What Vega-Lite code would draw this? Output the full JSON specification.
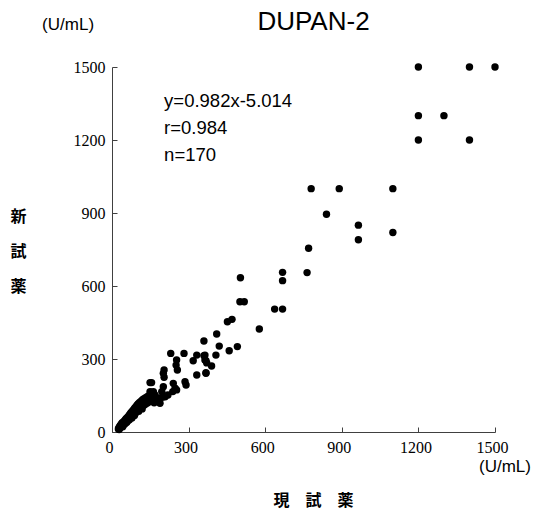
{
  "$schema": "https://vega.github.io/schema/vega-lite/v6.json",
  "width": 383,
  "height": 365,
  "autosize": {"type": "none"},
  "padding": {"left": 112, "top": 67, "right": 41, "bottom": 86},
  "background": "white",
  "config": {"view": {"stroke": null}, "font": "Liberation Sans"},
  "title": {"text": "DUPAN-2", "fontSize": 26, "font": "Liberation Sans", "fontWeight": "normal", "color": "black", "anchor": "middle", "frame": "group", "dx": 10, "offset": -19},
  "layer": [
    {
      "data": {"values": [
        {"current": 25, "new": 12}, {"current": 27, "new": 18}, {"current": 28, "new": 10}, {"current": 30, "new": 22}, {"current": 30, "new": 15},
        {"current": 32, "new": 26}, {"current": 33, "new": 18}, {"current": 35, "new": 30}, {"current": 35, "new": 20}, {"current": 37, "new": 25},
        {"current": 38, "new": 34}, {"current": 40, "new": 28}, {"current": 40, "new": 38}, {"current": 42, "new": 22}, {"current": 43, "new": 32},
        {"current": 45, "new": 40}, {"current": 45, "new": 30}, {"current": 47, "new": 36}, {"current": 48, "new": 45}, {"current": 50, "new": 33},
        {"current": 50, "new": 42}, {"current": 52, "new": 50}, {"current": 53, "new": 38}, {"current": 55, "new": 46}, {"current": 55, "new": 55},
        {"current": 57, "new": 42}, {"current": 58, "new": 52}, {"current": 60, "new": 60}, {"current": 60, "new": 45}, {"current": 62, "new": 55},
        {"current": 63, "new": 48}, {"current": 65, "new": 65}, {"current": 65, "new": 52}, {"current": 67, "new": 60}, {"current": 68, "new": 70},
        {"current": 70, "new": 55}, {"current": 70, "new": 64}, {"current": 72, "new": 75}, {"current": 73, "new": 60}, {"current": 75, "new": 68},
        {"current": 75, "new": 80}, {"current": 77, "new": 62}, {"current": 78, "new": 72}, {"current": 80, "new": 85}, {"current": 80, "new": 66},
        {"current": 82, "new": 76}, {"current": 83, "new": 90}, {"current": 85, "new": 70}, {"current": 85, "new": 80}, {"current": 87, "new": 95},
        {"current": 88, "new": 74}, {"current": 90, "new": 85}, {"current": 90, "new": 100}, {"current": 92, "new": 78}, {"current": 93, "new": 90},
        {"current": 95, "new": 105}, {"current": 95, "new": 82}, {"current": 97, "new": 95}, {"current": 98, "new": 110}, {"current": 100, "new": 88},
        {"current": 100, "new": 100}, {"current": 102, "new": 115}, {"current": 104, "new": 92}, {"current": 105, "new": 105}, {"current": 107, "new": 120},
        {"current": 108, "new": 96}, {"current": 110, "new": 110}, {"current": 112, "new": 125}, {"current": 113, "new": 100}, {"current": 115, "new": 115},
        {"current": 117, "new": 130}, {"current": 118, "new": 105}, {"current": 120, "new": 120}, {"current": 122, "new": 135}, {"current": 125, "new": 110},
        {"current": 127, "new": 125}, {"current": 130, "new": 140}, {"current": 132, "new": 115}, {"current": 135, "new": 130}, {"current": 138, "new": 145},
        {"current": 140, "new": 120}, {"current": 143, "new": 135}, {"current": 145, "new": 150}, {"current": 148, "new": 125}, {"current": 150, "new": 140},
        {"current": 155, "new": 130}, {"current": 160, "new": 145}, {"current": 165, "new": 120}, {"current": 58, "new": 40}, {"current": 68, "new": 50},
        {"current": 78, "new": 58}, {"current": 88, "new": 68}, {"current": 105, "new": 85}, {"current": 118, "new": 95},
        {"current": 149, "new": 203}, {"current": 155, "new": 203}, {"current": 149, "new": 166}, {"current": 162, "new": 166}, {"current": 168, "new": 152},
        {"current": 181, "new": 140}, {"current": 188, "new": 118}, {"current": 201, "new": 186}, {"current": 195, "new": 166}, {"current": 208, "new": 145},
        {"current": 219, "new": 152}, {"current": 201, "new": 241}, {"current": 204, "new": 255}, {"current": 204, "new": 225}, {"current": 240, "new": 200},
        {"current": 247, "new": 180}, {"current": 238, "new": 166}, {"current": 253, "new": 173}, {"current": 253, "new": 296}, {"current": 251, "new": 275},
        {"current": 256, "new": 255}, {"current": 230, "new": 323}, {"current": 282, "new": 323}, {"current": 286, "new": 207}, {"current": 290, "new": 193},
        {"current": 318, "new": 293}, {"current": 332, "new": 316}, {"current": 364, "new": 316}, {"current": 407, "new": 316}, {"current": 332, "new": 234},
        {"current": 368, "new": 244}, {"current": 364, "new": 296}, {"current": 371, "new": 284}, {"current": 390, "new": 271}, {"current": 360, "new": 374},
        {"current": 420, "new": 353}, {"current": 491, "new": 351}, {"current": 459, "new": 334}, {"current": 410, "new": 403}, {"current": 452, "new": 453},
        {"current": 470, "new": 463}, {"current": 577, "new": 423}, {"current": 503, "new": 634}, {"current": 501, "new": 535}, {"current": 518, "new": 535},
        {"current": 637, "new": 505}, {"current": 668, "new": 505}, {"current": 668, "new": 656}, {"current": 668, "new": 622}, {"current": 764, "new": 655},
        {"current": 770, "new": 755}, {"current": 780, "new": 1000}, {"current": 890, "new": 1000}, {"current": 1100, "new": 1000}, {"current": 840, "new": 895},
        {"current": 965, "new": 850}, {"current": 965, "new": 790}, {"current": 1100, "new": 820}, {"current": 1200, "new": 1500}, {"current": 1400, "new": 1500},
        {"current": 1500, "new": 1500}, {"current": 1200, "new": 1300}, {"current": 1300, "new": 1300}, {"current": 1200, "new": 1200}, {"current": 1400, "new": 1200},
        {"current": 360, "new": 314}, {"current": 368, "new": 293}, {"current": 368, "new": 241}, {"current": 197, "new": 143}, {"current": 168, "new": 130}
      ]},
      "mark": {"type": "circle", "size": 55, "color": "black", "opacity": 1},
      "encoding": {
        "x": {
          "field": "current", "type": "quantitative",
          "scale": {"domain": [0, 1500], "nice": false},
          "axis": {
            "title": "現　試　薬", "values": [0, 300, 600, 900, 1200, 1500], "format": "d", "grid": false,
            "tickSize": -5, "tickColor": "#404040", "domainColor": "#404040",
            "labelFont": "Liberation Sans Narrow", "labelFontSize": 16, "labelColor": "black",
            "labelPadding": 12, "labelOffset": -3, "labelFlush": false, "labelOverlap": false,
            "titleFont": "Noto Sans CJK JP", "titleFontSize": 16, "titleFontWeight": "bold", "titleColor": "black",
            "titleX": 201, "titleY": 68, "titleBaseline": "middle", "titleAlign": "center"
          }
        },
        "y": {
          "field": "new", "type": "quantitative",
          "scale": {"domain": [0, 1500], "nice": false},
          "axis": {
            "title": ["新", "試", "薬"], "values": [0, 300, 600, 900, 1200, 1500], "format": "d", "grid": false,
            "tickSize": -5, "tickColor": "#404040", "domainColor": "#404040",
            "labelFont": "Liberation Sans Narrow", "labelFontSize": 16, "labelColor": "black",
            "labelPadding": 12, "labelFlush": false, "labelOverlap": false,
            "titleFont": "Noto Sans CJK JP", "titleFontSize": 16, "titleFontWeight": "bold", "titleColor": "black",
            "titleAngle": 0, "titleX": -94, "titleY": 149, "titleBaseline": "middle", "titleAlign": "center", "titleLineHeight": 35
          }
        }
      }
    },
    {
      "data": {"values": [{"label": "stats"}]},
      "mark": {"type": "text", "align": "left", "baseline": "top", "fontSize": 18.5, "lineHeight": 27, "font": "Liberation Sans", "color": "black"},
      "encoding": {
        "x": {"datum": 204},
        "y": {"datum": 1398},
        "text": {"value": ["y=0.982x-5.014", "r=0.984", "n=170"]}
      }
    },
    {
      "data": {"values": [{"label": "(U/mL)"}]},
      "mark": {"type": "text", "align": "center", "baseline": "middle", "fontSize": 17, "font": "Liberation Sans", "color": "black"},
      "encoding": {
        "x": {"datum": -172},
        "y": {"datum": 1673},
        "text": {"field": "label"}
      }
    },
    {
      "data": {"values": [{"label": "(U/mL)"}]},
      "mark": {"type": "text", "align": "center", "baseline": "middle", "fontSize": 17, "font": "Liberation Sans", "color": "black"},
      "encoding": {
        "x": {"datum": 1539},
        "y": {"datum": -144},
        "text": {"field": "label"}
      }
    }
  ]
}
